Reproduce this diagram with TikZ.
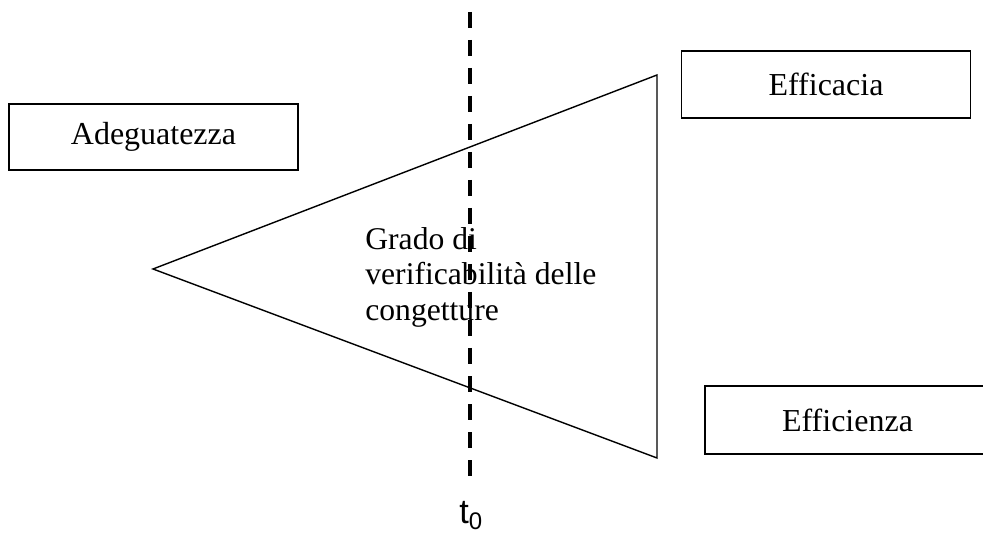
\documentclass[tikz,border=0pt]{standalone}
\usepackage{fontspec}
\setmainfont{Liberation Serif}
\newfontfamily\tlabelfont{Liberation Sans}

\tikzset{
    criterion/.style={draw, line width=1.1pt, minimum width=5.78cm, minimum height=1.33cm,
        inner sep=0pt, font=\fontsize{18.2}{19}\selectfont},
}

\begin{document}
\begin{tikzpicture}
        % \draw[draw=black!20] (0, 0) grid (20, 11);
        \useasboundingbox (0, 0) rectangle (19.66, 10.72);

        \node[criterion] (box-adeguatezza) at (3.07, 7.98) {Adeguatezza};
        \node[criterion] (box-efficacia) at (16.52, 9.03) {Efficacia};
        \node[criterion, minimum width=5.7cm, minimum height=1.36cm] (box-efficienza) at (16.95, 2.32) {Efficienza};

        \coordinate (tri-tip) at (3.06, 5.34);
        \coordinate (tri-top) at (13.14, 9.22);
        \coordinate (tri-bottom) at (13.14, 1.56);
        \draw[line width=0.8pt, line join=miter] (tri-tip) -- (tri-top) -- (tri-bottom) -- cycle;

        \node[draw=none, align=left, anchor=north west, inner sep=0pt, font=\fontsize{18}{20.2}\selectfont]
            (grado-label) at (7.30, 6.18) {Grado di\\verificabilità delle\\congetture};

        \coordinate (t0-top) at (9.40, 10.48);
        \coordinate (t0-bottom) at (9.40, 1.20);
        \draw[line width=2.2pt, dash pattern=on 0.32cm off 0.24cm] (t0-top) -- (t0-bottom);
        \node[draw=none, anchor=base west, inner sep=0pt, font=\tlabelfont\fontsize{19.5}{20}\selectfont]
            (t0-label) at (9.18, 0.24) {t\textsubscript{0}};

    \end{tikzpicture}
\end{document}
